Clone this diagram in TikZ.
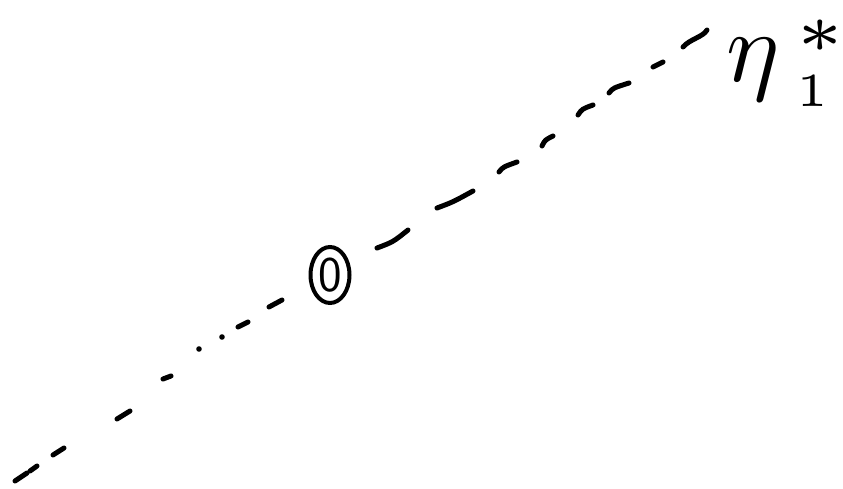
\documentclass[tikz,border=0pt]{standalone}
\usepackage{graphicx}
\usetikzlibrary{shapes.geometric}
\tikzset{
  pen/.style={line width=5pt, line cap=round, line join=round},
  penDot/.style={fill=black},
  circled/.style={draw, ellipse, line width=4pt, minimum width=39pt, minimum height=56pt, inner sep=0pt},
}
\begin{document}
\begin{tikzpicture}[x=1pt, y=-1pt]
\fill[white] (0,0) rectangle (843,489);
\useasboundingbox (0,0) rectangle (843,489);
% lower-left part of the dashed line
\draw[pen] (15,481) -- (27,473);
\draw[pen] (30,471) -- (37,466);
\draw[pen] (53,455) -- (64,448);
\draw[pen] (117,419) -- (130,411);
\draw[pen] (163,379) -- (171,376);
\fill[penDot] (199,349) circle (2.8pt);
\fill[penDot] (222,337) circle (2.8pt);
\draw[pen] (238,327) -- (248,322);
\draw[pen] (269,307) -- (282,300);
% circled zero
\node[circled] (zero) at (330,275) {\fontsize{50}{50}\selectfont\sffamily 0};
% upper-right part of the dashed line
\draw[pen] (377,248) .. controls (393,242) .. (408,230);
\draw[pen] (437,208) .. controls (453,202) .. (473,191);
\draw[pen] (499,172) .. controls (503,167) .. (517,162);
\draw[pen] (542,146) .. controls (545,140) .. (553,136);
\draw[pen] (578,115) .. controls (582,109) .. (593,105);
\draw[pen] (609,93) .. controls (613,88) .. (629,83);
\draw[pen] (653,67) -- (663,62);
\draw[pen] (683,47) .. controls (690,39) and (703,37) .. (707,30);
% label
\node[anchor=base west, inner sep=0pt] (eta) at (726,82)
  {\scalebox{10}{$\eta^{\kern1.5pt\raisebox{-0.7pt}{\scalebox{1.4}{$\scriptscriptstyle *$}}}_{\kern2pt\scalebox{0.95}{$\scriptscriptstyle 1$}}$}};
\end{tikzpicture}
\end{document}
